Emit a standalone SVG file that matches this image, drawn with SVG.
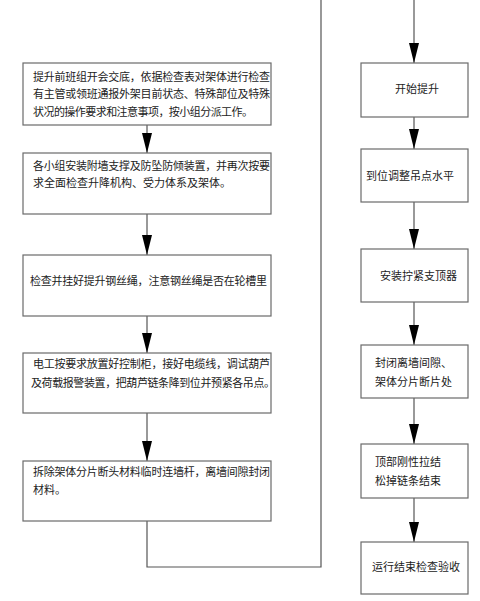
<svg xmlns="http://www.w3.org/2000/svg" width="480" height="601" viewBox="0 0 480 601">
<style>
.box{fill:#fff;stroke:#6a6a6a;stroke-width:1.2}
.t{font-family:"Noto Sans CJK SC","Liberation Sans",sans-serif;font-size:11px;fill:#222}
.c{fill:none;stroke:#555;stroke-width:1.2}
</style>
<defs>
<marker id="ah" markerUnits="userSpaceOnUse" markerWidth="20" markerHeight="10" refX="20" refY="5" orient="auto" viewBox="0 0 20 10">
<path d="M0,0 L20,5 L0,10 Z" fill="#000"/>
</marker>
</defs>
<rect width="480" height="601" fill="#fff"/>
<g id="connectors">
<path class="c" d="M147,125 V153" marker-end="url(#ah)"/>
<path class="c" d="M147,214 V255" marker-end="url(#ah)"/>
<path class="c" d="M147,316 V353" marker-end="url(#ah)"/>
<path class="c" d="M147,413 V461" marker-end="url(#ah)"/>
<path class="c" d="M147,521 V567 H321 V0"/>
<path class="c" d="M414,0 V63" marker-end="url(#ah)"/>
<path class="c" d="M414,117 V149" marker-end="url(#ah)"/>
<path class="c" d="M414,202 V249" marker-end="url(#ah)"/>
<path class="c" d="M414,302 V345" marker-end="url(#ah)"/>
<path class="c" d="M414,398 V444" marker-end="url(#ah)"/>
<path class="c" d="M414,498 V542" marker-end="url(#ah)"/>
</g>
<g id="n1">
<rect class="box" x="23" y="63" width="248" height="62"/>
<text class="t" x="33" y="81" textLength="237">提升前班组开会交底，依据检查表对架体进行检查</text>
<text class="t" x="33" y="98" textLength="237">有主管或领班通报外架目前状态、特殊部位及特殊</text>
<text class="t" x="33" y="116" textLength="220">状况的操作要求和注意事项，按小组分派工作。</text>
</g>
<g id="n2">
<rect class="box" x="23" y="153" width="248" height="61"/>
<text class="t" x="33" y="170" textLength="237">各小组安装附墙支撑及防坠防倾装置，并再次按要</text>
<text class="t" x="33" y="187">求全面检查升降机构、受力体系及架体。</text>
</g>
<g id="n3">
<rect class="box" x="23" y="255" width="248" height="61"/>
<text class="t" x="30" y="285" textLength="237">检查并挂好提升钢丝绳，注意钢丝绳是否在轮槽里</text>
</g>
<g id="n4">
<rect class="box" x="23" y="353" width="248" height="60"/>
<text class="t" x="33" y="368" textLength="237">电工按要求放置好控制柜，接好电缆线，调试葫芦</text>
<text class="t" x="31" y="387" textLength="244">及荷载报警装置，把葫芦链条降到位并预紧各吊点。</text>
</g>
<g id="n5">
<rect class="box" x="23" y="461" width="248" height="60"/>
<text class="t" x="33" y="476" textLength="237">拆除架体分片断头材料临时连墙杆，离墙间隙封闭</text>
<text class="t" x="33" y="494">材料。</text>
</g>
<g id="r1">
<rect class="box" x="361" y="63" width="107" height="54"/>
<text class="t" x="395" y="93">开始提升</text>
</g>
<g id="r2">
<rect class="box" x="361" y="149" width="107" height="53"/>
<text class="t" x="366" y="180">到位调整吊点水平</text>
</g>
<g id="r3">
<rect class="box" x="361" y="249" width="107" height="53"/>
<text class="t" x="380" y="280">安装拧紧支顶器</text>
</g>
<g id="r4">
<rect class="box" x="361" y="345" width="107" height="53"/>
<text class="t" x="375" y="367">封闭离墙间隙、</text>
<text class="t" x="375" y="386">架体分片断片处</text>
</g>
<g id="r5">
<rect class="box" x="361" y="444" width="107" height="54"/>
<text class="t" x="375" y="466">顶部刚性拉结</text>
<text class="t" x="375" y="485">松掉链条结束</text>
</g>
<g id="r6">
<rect class="box" x="361" y="542" width="107" height="52"/>
<text class="t" x="372" y="571">运行结束检查验收</text>
</g>
</svg>
